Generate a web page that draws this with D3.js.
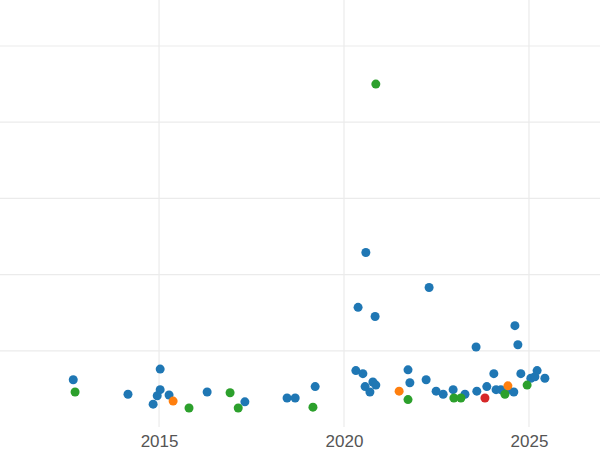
<!DOCTYPE html>
<html><head><meta charset="utf-8">
<script src="https://cdn.jsdelivr.net/npm/d3@7"></script>
<style>body{margin:0;background:#fff}svg{font-family:"DejaVu Sans",sans-serif}</style>
</head><body><div id="chart"></div>
<script>
// data: [year, value]
var blueYears = [2012.68,2014.16,2015.03,2015.03,2014.95,2014.84,2015.27,2016.30,2017.32,2018.46,2018.68,2019.22,2020.32,2020.38,2020.51,2020.57,2020.59,2020.70,2020.78,2020.86,2020.84,2021.73,2021.78,2022.22,2022.30,2022.49,2022.68,2022.95,2023.27,2023.57,2023.59,2023.86,2024.05,2024.11,2024.24,2024.43,2024.59,2024.62,2024.70,2024.78,2025.05,2025.16,2025.22,2025.43];
var blueValues = [0.62,0.43,0.76,0.49,0.41,0.30,0.42,0.46,0.33,0.38,0.38,0.53,0.74,1.57,0.70,0.53,2.29,0.46,0.59,0.55,1.45,0.75,0.58,0.62,1.83,0.47,0.43,0.49,0.43,1.05,0.47,0.53,0.70,0.49,0.49,0.49,0.46,1.33,1.08,0.70,0.64,0.66,0.74,0.64];
var greenYears = [2012.73,2015.81,2016.92,2017.14,2019.16,2020.86,2021.73,2022.97,2023.16,2024.35,2024.95];
var greenValues = [0.46,0.25,0.45,0.25,0.26,4.50,0.36,0.38,0.38,0.43,0.55];
var orangeYears = [2015.38,2021.49,2024.43];
var orangeValues = [0.34,0.47,0.54];
var redYears = [2023.81];
var redValues = [0.38];
var xTicks = [2015, 2020, 2025];
var yTicks = [1, 2, 3, 4, 5];

var w = 600, h = 450;
var svg = d3.select("#chart").append("svg").attr("width", w).attr("height", h);
var x = d3.scaleLinear().domain([2010.7, 2026.92]).range([0, 600]);
var y = d3.scaleLinear().domain([0, 5]).range([427, 46]);

svg.selectAll(".hg").data(yTicks).enter().append("line")
  .attr("x1", 0).attr("x2", w).attr("y1", function(d){return y(d);}).attr("y2", function(d){return y(d);})
  .attr("stroke", "#ebebeb").attr("stroke-width", 1.2);
svg.selectAll(".vg").data(xTicks).enter().append("line")
  .attr("y1", 0).attr("y2", 427).attr("x1", function(d){return x(d);}).attr("x2", function(d){return x(d);})
  .attr("stroke", "#ebebeb").attr("stroke-width", 1.2);

var xAxis = svg.append("g").attr("transform", "translate(0,427)")
  .call(d3.axisBottom(x).tickValues(xTicks).tickFormat(d3.format("d")).tickSize(0).tickPadding(8));
xAxis.select(".domain").remove();
xAxis.selectAll("text").attr("font-size", 17).attr("fill", "#555");

var series = [
  [blueYears, blueValues, "#1f77b4"],
  [greenYears, greenValues, "#2ca02c"],
  [orangeYears, orangeValues, "#ff7f0e"],
  [redYears, redValues, "#d62728"]
];
series.forEach(function(s) {
  svg.append("g").selectAll("circle").data(s[0]).enter().append("circle")
    .attr("cx", function(d){return x(d);})
    .attr("cy", function(d, i){return y(s[1][i]);})
    .attr("r", 4.5).attr("fill", s[2]);
});
</script></body></html>
